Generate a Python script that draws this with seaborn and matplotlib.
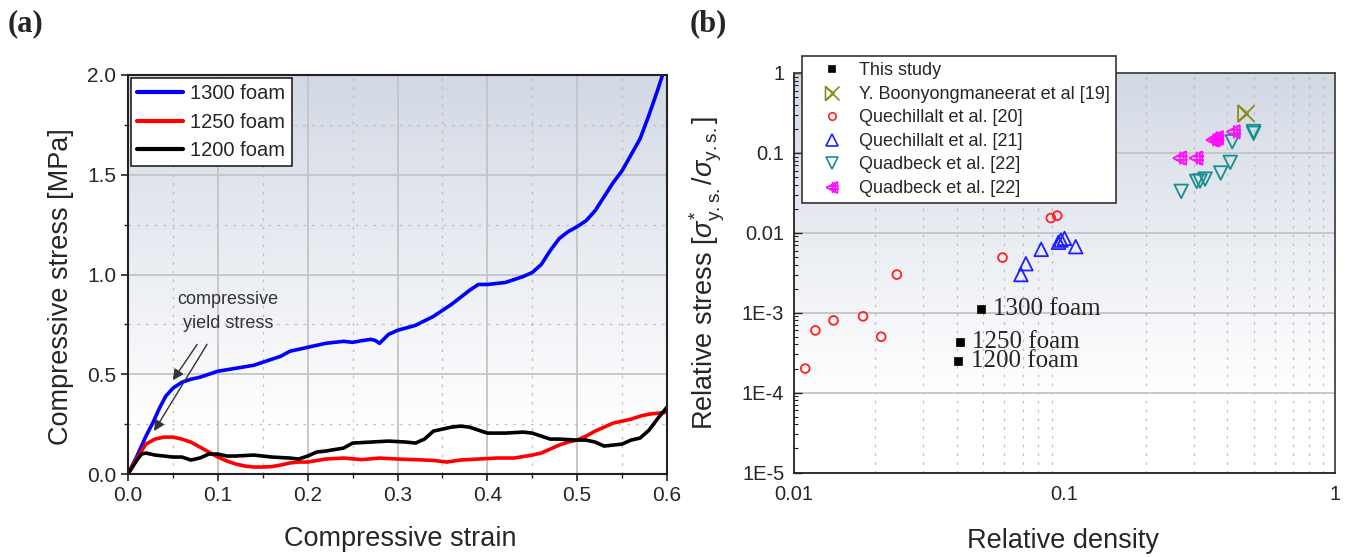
import numpy as np
import pandas as pd
import matplotlib
matplotlib.use("Agg")
import matplotlib.pyplot as plt
import seaborn as sns
from matplotlib.path import Path
from matplotlib.lines import Line2D
from matplotlib.ticker import MultipleLocator, FixedLocator, FixedFormatter, NullFormatter

# ---------------- data: panel (a) ----------------
strain_1300 = [0, 0.01, 0.02, 0.028, 0.035, 0.042, 0.05, 0.06, 0.07, 0.08, 0.09, 0.10, 0.12, 0.14,
               0.15, 0.16, 0.17, 0.18, 0.20, 0.22, 0.24, 0.25, 0.26, 0.27, 0.275, 0.28, 0.29, 0.30,
               0.32, 0.34, 0.36, 0.38, 0.39, 0.40, 0.41, 0.42, 0.44, 0.45, 0.46, 0.47, 0.48, 0.49,
               0.50, 0.51, 0.52, 0.53, 0.54, 0.55, 0.56, 0.57, 0.58, 0.59, 0.595]
stress_1300 = [0, 0.09, 0.19, 0.26, 0.33, 0.39, 0.43, 0.46, 0.475, 0.485, 0.50, 0.515, 0.53, 0.545,
               0.56, 0.575, 0.59, 0.615, 0.635, 0.655, 0.665, 0.66, 0.668, 0.675, 0.67, 0.655, 0.70, 0.72,
               0.745, 0.79, 0.85, 0.92, 0.95, 0.95, 0.955, 0.96, 0.99, 1.01, 1.05, 1.12, 1.18, 1.215,
               1.24, 1.27, 1.32, 1.39, 1.46, 1.52, 1.60, 1.68, 1.80, 1.93, 2.0]

strain_1250 = [0, 0.01, 0.02, 0.03, 0.04, 0.05, 0.06, 0.07, 0.08, 0.09, 0.10, 0.11, 0.12, 0.13, 0.14,
               0.15, 0.16, 0.17, 0.18, 0.19, 0.20, 0.22, 0.24, 0.26, 0.28, 0.30, 0.32, 0.34, 0.355,
               0.37, 0.39, 0.41, 0.43, 0.45, 0.46, 0.47, 0.48, 0.49, 0.50, 0.51, 0.52, 0.53, 0.54,
               0.55, 0.56, 0.57, 0.58, 0.59, 0.60]
stress_1250 = [0, 0.08, 0.15, 0.175, 0.185, 0.185, 0.175, 0.16, 0.135, 0.11, 0.085, 0.065, 0.05, 0.04,
               0.035, 0.035, 0.037, 0.045, 0.055, 0.06, 0.06, 0.075, 0.08, 0.072, 0.08, 0.075, 0.072,
               0.068, 0.06, 0.07, 0.075, 0.08, 0.08, 0.095, 0.105, 0.125, 0.145, 0.16, 0.17, 0.19,
               0.215, 0.235, 0.255, 0.265, 0.275, 0.29, 0.30, 0.305, 0.31]

strain_1200 = [0, 0.01, 0.015, 0.02, 0.03, 0.04, 0.05, 0.06, 0.07, 0.08, 0.09, 0.10, 0.11, 0.12, 0.14,
               0.16, 0.18, 0.19, 0.20, 0.21, 0.22, 0.24, 0.25, 0.27, 0.29, 0.31, 0.32, 0.33, 0.34,
               0.36, 0.37, 0.38, 0.39, 0.40, 0.42, 0.44, 0.45, 0.46, 0.47, 0.48, 0.50, 0.51, 0.52,
               0.53, 0.54, 0.55, 0.56, 0.57, 0.58, 0.59, 0.60]
stress_1200 = [0, 0.07, 0.10, 0.105, 0.095, 0.09, 0.085, 0.085, 0.07, 0.08, 0.10, 0.10, 0.09, 0.09,
               0.095, 0.085, 0.08, 0.075, 0.09, 0.11, 0.115, 0.13, 0.155, 0.16, 0.165, 0.16, 0.155,
               0.175, 0.215, 0.235, 0.24, 0.235, 0.22, 0.205, 0.205, 0.21, 0.205, 0.19, 0.175, 0.175,
               0.17, 0.17, 0.16, 0.14, 0.145, 0.15, 0.17, 0.18, 0.22, 0.28, 0.335]

curve_labels = ["1300 foam", "1250 foam", "1200 foam"]
curve_colors = ["#0000ff", "#ff0000", "#000000"]

# ---------------- data: panel (b) ----------------
this_density = [0.049, 0.041, 0.0405]
this_stress = [1.1e-3, 4.3e-4, 2.5e-4]
this_labels = ["1300 foam", "1250 foam", "1200 foam"]

boon_density = [0.47]
boon_stress = [0.31]

q20_density = [0.011, 0.012, 0.014, 0.018, 0.021, 0.024, 0.059, 0.089, 0.094]
q20_stress = [2.0e-4, 6.0e-4, 8.0e-4, 9.0e-4, 5.0e-4, 3.0e-3, 4.9e-3, 0.0153, 0.0164]

q21_density = [0.069, 0.072, 0.082, 0.095, 0.097, 0.100, 0.110]
q21_stress = [0.0030, 0.0041, 0.0062, 0.0076, 0.0081, 0.0085, 0.0067]

qb1_density = [0.27, 0.308, 0.317, 0.331, 0.378, 0.41, 0.417, 0.50, 0.50]
qb1_stress = [0.033, 0.044, 0.0445, 0.047, 0.056, 0.076, 0.138, 0.176, 0.185]

qb2_density = [0.268, 0.308, 0.355, 0.362, 0.367, 0.423]
qb2_stress = [0.086, 0.086, 0.145, 0.150, 0.155, 0.184]

legend_b_labels = ["This study", "Y. Boonyongmaneerat et al [19]", "Quechillalt et al. [20]",
                   "Quechillalt et al. [21]", "Quadbeck et al. [22]", "Quadbeck et al. [22]"]

xticks_b = [0.01, 0.1, 1]
xticklabels_b = ["0.01", "0.1", "1"]
yticks_b = [1e-5, 1e-4, 1e-3, 1e-2, 1e-1, 1]
yticklabels_b = ["1E-5", "1E-4", "1E-3", "0.01", "0.1", "1"]

# ---------------- style ----------------
sns.set_style("ticks")
plt.rcParams["font.family"] = ["Liberation Sans", "DejaVu Sans"]
plt.rcParams["mathtext.fontset"] = "custom"
plt.rcParams["mathtext.rm"] = "Liberation Sans"
plt.rcParams["mathtext.it"] = "Liberation Sans:italic"

W, H = 1349, 557
fig = plt.figure(figsize=(W / 100, H / 100), dpi=100)

def px_rect(l, r, t, b):
    return [l / W, 1 - b / H, (r - l) / W, (b - t) / H]

pos_a = px_rect(128, 667, 75, 474)
pos_b = px_rect(794, 1335, 73, 472.5)

def gradient_bg(pos, white_at=0.15):
    bg = fig.add_axes(pos, zorder=0)
    n = 300
    t = np.linspace(1, 0, n)
    f = np.clip((t - white_at) / (1 - white_at), 0, 1)[:, None, None]
    top = np.array([0.825, 0.850, 0.895])
    img = 1 - (1 - top) * f
    img = np.repeat(img, 2, axis=1)
    bg.imshow(img, aspect="auto", extent=[0, 1, 0, 1], interpolation="bilinear")
    bg.set_axis_off()
    return bg

gradient_bg(pos_a, 0.12)
gradient_bg(pos_b, 0.2)

# ---------------- panel (a) ----------------
ax1 = fig.add_axes(pos_a, zorder=1)
ax1.patch.set_visible(False)
for xs, ys, lab, col in zip([strain_1300, strain_1250, strain_1200],
                            [stress_1300, stress_1250, stress_1200],
                            curve_labels, curve_colors):
    sns.lineplot(x=xs, y=ys, ax=ax1, color=col, lw=2.6, sort=False, estimator=None, label=lab)

ax1.set_xlim(0, 0.6)
ax1.set_ylim(0, 2.0)
ax1.xaxis.set_major_locator(MultipleLocator(0.1))
ax1.xaxis.set_minor_locator(MultipleLocator(0.05))
ax1.yaxis.set_major_locator(MultipleLocator(0.5))
ax1.yaxis.set_minor_locator(MultipleLocator(0.25))
ax1.xaxis.set_major_formatter(matplotlib.ticker.FormatStrFormatter("%.1f"))
ax1.yaxis.set_major_formatter(matplotlib.ticker.FormatStrFormatter("%.1f"))
ax1.grid(which="major", color="#c4c4c4", lw=1.3, ls="-")
ax1.grid(which="minor", color="#bdbdbd", lw=0.9, ls=(0, (2, 5)))
ax1.set_axisbelow(True)
ax1.tick_params(which="major", direction="out", length=5, width=1.2, labelsize=15, color="#222222")
ax1.tick_params(which="minor", direction="out", length=3, width=1.0, color="#222222")
for s in ax1.spines.values():
    s.set_color("#222222")
    s.set_linewidth(1.5)
    s.set_visible(True)

ax1.set_xlabel("Compressive strain", fontsize=19.5)
ax1.set_ylabel("Compressive stress [MPa]", fontsize=19.5)
ax1.xaxis.set_label_coords(0.505, -0.13)
ax1.yaxis.set_label_coords(-0.1, 0.47)

leg1 = ax1.legend(loc="upper left", fontsize=14.5, frameon=True, fancybox=False,
                  edgecolor="#222222", framealpha=1, borderaxespad=0.15, borderpad=0.3,
                  handlelength=2.3, handletextpad=0.35, labelspacing=0.48)
leg1.get_frame().set_linewidth(1.2)
for ln in leg1.get_lines():
    ln.set_linewidth(3)

ax1.text(0.111, 0.875, "compressive", fontsize=13, color="#333333", ha="center", va="center")
ax1.text(0.111, 0.755, "yield stress", fontsize=13, color="#333333", ha="center", va="center")
arrow_kw = dict(arrowstyle="-|>", color="#333333", lw=1.0, mutation_scale=16, shrinkA=0, shrinkB=0)
ax1.annotate("", xy=(0.050, 0.47), xytext=(0.077, 0.65), arrowprops=arrow_kw)
ax1.annotate("", xy=(0.029, 0.215), xytext=(0.088, 0.65), arrowprops=arrow_kw)

# ---------------- panel (b) ----------------
ax2 = fig.add_axes(pos_b, zorder=1)
ax2.patch.set_visible(False)
ax2.set_xscale("log")
ax2.set_yscale("log")

boon_marker = Path([(-1, -1), (1, 1), (-1, 1), (1, -1), (-1, -1), (-1, 1),
                    (0.2, 0.0), (-1, -1)],
                   [Path.MOVETO, Path.LINETO, Path.MOVETO, Path.LINETO, Path.MOVETO, Path.LINETO,
                    Path.LINETO, Path.LINETO])
hash_tri = Path([(-1, 0), (0.8, 0.9), (0.8, -0.9), (-1, 0),
                 (0.0, -0.9), (0.0, 0.9), (0.45, -0.9), (0.45, 0.9),
                 (-0.5, 0.25), (1.0, 0.25), (-0.5, -0.25), (1.0, -0.25)],
                [Path.MOVETO, Path.LINETO, Path.LINETO, Path.LINETO,
                 Path.MOVETO, Path.LINETO, Path.MOVETO, Path.LINETO,
                 Path.MOVETO, Path.LINETO, Path.MOVETO, Path.LINETO])

series_b = [
    (this_density, this_stress, "s", "#000000", 30, True),
    (boon_density, boon_stress, boon_marker, "#8c8c1e", 140, False),
    (q20_density, q20_stress, "o", "#ff2020", 40, False),
    (q21_density, q21_stress, "^", "#1f1fff", 95, False),
    (qb1_density, qb1_stress, "v", "#168f8f", 95, False),
    (qb2_density, qb2_stress, hash_tri, "#ff10ff", 110, False),
]
for xs, ys, mk, col, size, filled in series_b:
    df = pd.DataFrame({"density": xs, "stress": ys})
    if filled:
        sns.scatterplot(data=df, x="density", y="stress", ax=ax2, marker=mk, s=size,
                        color=col, edgecolor=col, linewidth=0.5, legend=False, zorder=3)
    else:
        sns.scatterplot(data=df, x="density", y="stress", ax=ax2, marker=mk, s=size,
                        facecolor="none", edgecolor=col, linewidth=1.3, legend=False, zorder=3)

for xd, yd, lab in zip(this_density, this_stress, this_labels):
    ax2.annotate(lab, xy=(xd, yd), xytext=(9, 0), textcoords="offset points",
                 fontsize=18, family=["Liberation Serif", "DejaVu Serif"], va="center", ha="left")

ax2.set_xlim(0.01, 1)
ax2.set_ylim(1e-5, 1)
ax2.xaxis.set_major_locator(FixedLocator(xticks_b))
ax2.xaxis.set_major_formatter(FixedFormatter(xticklabels_b))
ax2.yaxis.set_major_locator(FixedLocator(yticks_b))
ax2.yaxis.set_major_formatter(FixedFormatter(yticklabels_b))
ax2.xaxis.set_minor_locator(matplotlib.ticker.LogLocator(base=10, subs=np.arange(2, 10)))
ax2.yaxis.set_minor_locator(matplotlib.ticker.LogLocator(base=10, subs=np.arange(2, 10)))
ax2.xaxis.set_minor_formatter(NullFormatter())
ax2.yaxis.set_minor_formatter(NullFormatter())
ax2.grid(which="major", axis="y", color="#c4c4c4", lw=1.3, ls="-")
ax2.grid(which="minor", axis="x", color="#bdbdbd", lw=0.9, ls=(0, (2, 5)))
ax2.set_axisbelow(True)
ax2.tick_params(which="major", direction="in", length=6, width=1.0, labelsize=14.5, color="#222222")
ax2.tick_params(which="minor", direction="in", length=3, width=0.8, color="#222222")
ax2.tick_params(axis="y", which="major", pad=7)
ax2.tick_params(axis="x", which="both", length=0, pad=9)
for name, s in ax2.spines.items():
    s.set_visible(True)
    s.set_color("#222222" if name in ("left", "bottom") else "#444444")
    s.set_linewidth(1.3)

ax2.set_xlabel("Relative density", fontsize=19.5)
ax2.set_ylabel(r"Relative stress [$\sigma^{*}_{\mathrm{y.s.}}/\sigma_{\mathrm{y.s.}}$]", fontsize=19.5)
ax2.xaxis.set_label_coords(0.497, -0.14)
ax2.yaxis.set_label_coords(-0.124, 0.5)

handles_b = []
for (xs, ys, mk, col, size, filled), lab in zip(series_b, legend_b_labels):
    ms = np.sqrt(size) * 0.85
    handles_b.append(Line2D([], [], linestyle="none", marker=mk, markersize=ms,
                            markerfacecolor=col if filled else "none", markeredgecolor=col,
                            markeredgewidth=1.2))
leg2 = ax2.legend(handles_b, legend_b_labels, loc="upper left",
                  bbox_to_anchor=(802 / W, 1 - 56 / H), bbox_transform=fig.transFigure,
                  fontsize=13, frameon=True, fancybox=False, edgecolor="#333333", framealpha=1,
                  borderaxespad=0, borderpad=0.35, handlelength=2.6, handletextpad=0.2,
                  labelspacing=0.36)
leg2.get_frame().set_linewidth(1.2)

# panel letters
fig.text(8 / W, 1 - 24 / H, "(a)", fontsize=22, fontweight="bold",
         family=["Liberation Serif", "DejaVu Serif"], va="center", ha="left")
fig.text(690 / W, 1 - 24 / H, "(b)", fontsize=22, fontweight="bold",
         family=["Liberation Serif", "DejaVu Serif"], va="center", ha="left")

fig.savefig("out.png", dpi=100)
